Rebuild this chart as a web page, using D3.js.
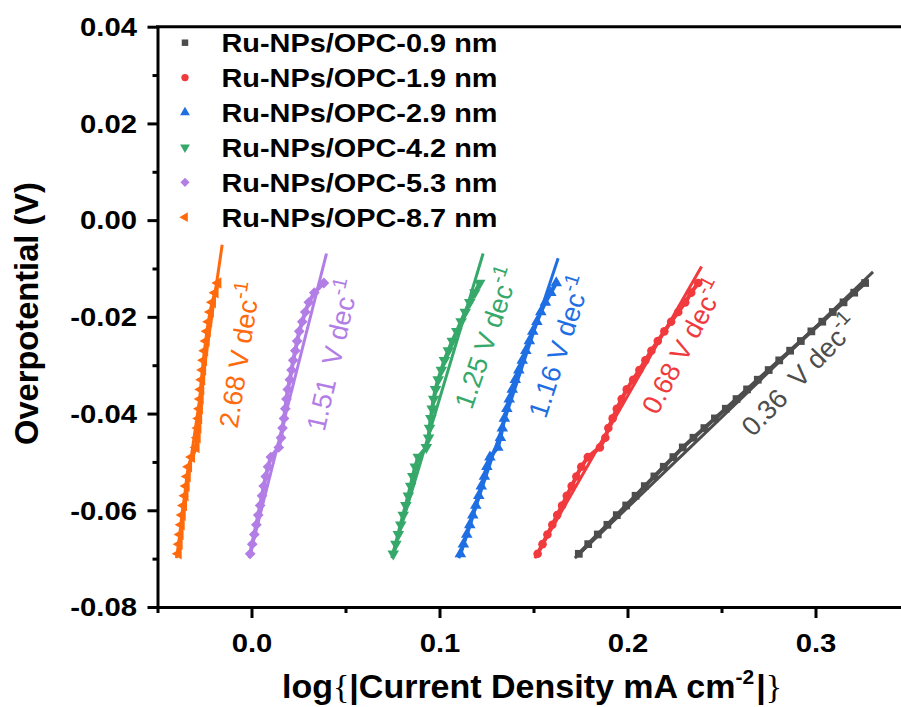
<!DOCTYPE html>
<html lang="en">
<head>
    <meta charset="UTF-8">
    <title>Tafel plots Ru-NPs/OPC</title>
    <script src="https://d3js.org/d3.v7.min.js"></script>
    <style>
        body { margin: 0; background: #fff; }
        svg { display: block; font-family: "Liberation Sans", Arial, sans-serif; }
        .axis path, .axis line { stroke: #000; stroke-width: 3px; }
        .axis text { font-size: 25px; font-weight: bold; fill: #000; }
        .anno { font-size: 27px; white-space: pre; }
    </style>
</head>
<body>
<svg id="chart"></svg>
<script>
    const width = 901, height = 707;

    // potential grid shared by all series (V)
    const potentials = [-0.069, -0.067, -0.065, -0.063, -0.061, -0.059, -0.057, -0.055, -0.053, -0.051,
        -0.049, -0.047, -0.045, -0.043, -0.041, -0.039, -0.037, -0.035, -0.033, -0.031,
        -0.029, -0.027, -0.025, -0.023, -0.021, -0.019, -0.017, -0.015, -0.013];

    // log current density for each sample
    const logJ_09 = [0.1741, 0.1791, 0.1842, 0.1893, 0.1943, 0.1993, 0.2043, 0.2092, 0.2143, 0.2193,
        0.2244, 0.2294, 0.2351, 0.2409, 0.2465, 0.2523, 0.2580, 0.2636, 0.2693, 0.2751,
        0.2807, 0.2865, 0.2922, 0.2978, 0.3036, 0.3092, 0.3149, 0.3206, 0.3264];
    const logJ_19 = [0.1522, 0.1548, 0.1574, 0.1600, 0.1626, 0.1652, 0.1677, 0.1703, 0.1728, 0.1754,
        0.1789, 0.1853, 0.1882, 0.1898, 0.1921, 0.1943, 0.1969, 0.1996, 0.2030, 0.2063,
        0.2095, 0.2127, 0.2161, 0.2196, 0.2232, 0.2270, 0.2307, 0.2339, 0.2376];
    const logJ_29 = [0.1111, 0.1127, 0.1145, 0.1161, 0.1177, 0.1193, 0.1209, 0.1222, 0.1239, 0.1252,
        0.1268, 0.1310, 0.1324, 0.1334, 0.1345, 0.1358, 0.1371, 0.1387, 0.1403, 0.1422,
        0.1440, 0.1459, 0.1478, 0.1496, 0.1518, 0.1539, 0.1563, 0.1592, 0.1621];
    const logJ_42 = [0.0754, 0.0768, 0.0781, 0.0794, 0.0807, 0.0821, 0.0834, 0.0847, 0.0858, 0.0871,
        0.0887, 0.0930, 0.0942, 0.0947, 0.0954, 0.0961, 0.0969, 0.0979, 0.0993, 0.1010,
        0.1026, 0.1047, 0.1068, 0.1092, 0.1115, 0.1137, 0.1161, 0.1188, 0.1214];
    const logJ_53 = [-0.0007, 0.0004, 0.0015, 0.0026, 0.0036, 0.0046, 0.0056, 0.0065, 0.0076, 0.0088,
        0.0103, 0.0145, 0.0157, 0.0165, 0.0173, 0.0180, 0.0186, 0.0193, 0.0204, 0.0213,
        0.0222, 0.0233, 0.0243, 0.0254, 0.0270, 0.0286, 0.0305, 0.0334, 0.0385];
    const logJ_87 = [-0.0389, -0.0384, -0.0379, -0.0373, -0.0368, -0.0361, -0.0353, -0.0347, -0.0341, -0.0334,
        -0.0318, -0.0294, -0.0288, -0.0284, -0.0280, -0.0276, -0.0272, -0.0269, -0.0264, -0.0259,
        -0.0254, -0.0248, -0.0241, -0.0235, -0.0227, -0.0218, -0.0207, -0.0193, -0.0178];

    const seriesNames = ["Ru-NPs/OPC-0.9 nm", "Ru-NPs/OPC-1.9 nm", "Ru-NPs/OPC-2.9 nm",
        "Ru-NPs/OPC-4.2 nm", "Ru-NPs/OPC-5.3 nm", "Ru-NPs/OPC-8.7 nm"];
    const seriesLogJ = [logJ_09, logJ_19, logJ_29, logJ_42, logJ_53, logJ_87];
    const colors = ["#4d4d4d", "#f03a3d", "#1f6fe3", "#36a86a", "#b27ee6", "#ff6a0c"];

    // linear Tafel fits: start x (at y0), end x / end y
    const fitY0 = -0.0699;
    const fitX0 = [0.1720, 0.1507, 0.1103, 0.0746, -0.0013, -0.0399];
    const fitX1 = [0.3306, 0.2394, 0.1631, 0.1232, 0.0399, -0.0156];
    const fitY1 = [-0.0107, -0.0096, -0.0079, -0.0069, -0.0069, -0.0051];

    // slope annotations
    const slopeText = ["0.36  V dec", "0.68 V dec", "1.16 V dec", "1.25 V dec", "1.51  V dec", "2.68 V dec"];
    const annoX = [0.2918, 0.2299, 0.1641, 0.1253, 0.0434, -0.0061];
    const annoY = [-0.0322, -0.0262, -0.0262, -0.0244, -0.0279, -0.0279];
    const annoAngle = [-46, -62, -72, -71, -77, -81];

    const xTicks = [0, 0.1, 0.2, 0.3];
    const xTickLabels = ["0.0", "0.1", "0.2", "0.3"];
    const xMinor = [-0.05, 0.05, 0.15, 0.25, 0.35];
    const yTicks = [0.04, 0.02, 0, -0.02, -0.04, -0.06, -0.08];
    const yTickLabels = ["0.04", "0.02", "0.00", "-0.02", "-0.04", "-0.06", "-0.08"];
    const yMinor = [0.03, 0.01, -0.01, -0.03, -0.05, -0.07];

    const svg = d3.select("#chart").attr("width", width).attr("height", height);
    svg.append("rect").attr("width", width).attr("height", height).attr("fill", "#fff");

    const x = d3.scaleLinear().domain([-0.05, 0.35]).range([157.5, 909.5]);
    const y = d3.scaleLinear().domain([-0.08, 0.04]).range([607, 26.7]);

    // horizontal stretch to mimic the wide lettering of the source
    function stretch(sel, k) {
        sel.each(function () {
            const w = this.getComputedTextLength();
            d3.select(this).attr("textLength", w * k).attr("lengthAdjust", "spacingAndGlyphs");
        });
    }

    const symbols = [
        {type: d3.symbolSquare, rot: 0},
        {type: d3.symbolCircle, rot: 0},
        {type: d3.symbolTriangle, rot: 0},
        {type: d3.symbolTriangle, rot: 180},
        {type: d3.symbolSquare, rot: 45},
        {type: d3.symbolTriangle, rot: -90}
    ];

    // series
    seriesLogJ.forEach((vals, i) => {
        const pts = vals.map((v, k) => [v, potentials[k]]);
        const g = svg.append("g");
        g.append("path")
            .attr("d", d3.line().x(d => x(d[0])).y(d => y(d[1]))(pts))
            .attr("fill", "none").attr("stroke", colors[i]).attr("stroke-width", 4)
            .attr("stroke-linejoin", "round");
        g.selectAll("path.pt").data(pts).enter().append("path")
            .attr("class", "pt")
            .attr("d", d3.symbol().type(symbols[i].type).size(i == 0 ? 60 : 58))
            .attr("transform", d => `translate(${x(d[0])},${y(d[1])}) rotate(${symbols[i].rot})`)
            .attr("fill", colors[i]);
        g.append("line")
            .attr("x1", x(fitX0[i])).attr("y1", y(fitY0))
            .attr("x2", x(fitX1[i])).attr("y2", y(fitY1[i]))
            .attr("stroke", colors[i]).attr("stroke-width", 3);
    });

    // annotations
    slopeText.forEach((t, i) => {
        const txt = svg.append("text")
            .attr("class", "anno")
            .attr("transform", `translate(${x(annoX[i])},${y(annoY[i])}) rotate(${annoAngle[i]})`)
            .attr("text-anchor", "middle")
            .attr("dominant-baseline", "central")
            .attr("fill", colors[i]);
        txt.append("tspan").text(t);
        txt.append("tspan").attr("dy", -10).attr("font-size", 20).text("-1");
    });

    // axes
    const yAxis = svg.append("g").attr("class", "axis").attr("transform", `translate(${x(-0.05)},0)`)
        .call(d3.axisLeft(y).tickValues(yTicks).tickFormat((d, k) => yTickLabels[k])
            .tickSize(10).tickSizeOuter(0).tickPadding(10.5));
    yAxis.selectAll("text").attr("dy", "0.35em").call(stretch, 1.17);
    svg.append("g").attr("class", "axis").attr("transform", `translate(${x(-0.05)},0)`)
        .call(d3.axisLeft(y).tickValues(yMinor).tickFormat("").tickSize(5).tickSizeOuter(0))
        .select(".domain").remove();

    const xAxis = svg.append("g").attr("class", "axis").attr("transform", `translate(0,${y(-0.08)})`)
        .call(d3.axisBottom(x).tickValues(xTicks).tickFormat((d, k) => xTickLabels[k])
            .tickSize(11).tickSizeOuter(0).tickPadding(16));
    xAxis.selectAll("text").call(stretch, 1.17);
    svg.append("g").attr("class", "axis").attr("transform", `translate(0,${y(-0.08)})`)
        .call(d3.axisBottom(x).tickValues(xMinor).tickFormat("").tickSize(6).tickSizeOuter(0))
        .select(".domain").remove();

    // top frame line
    svg.append("line")
        .attr("x1", x(-0.05) - 1.5).attr("x2", width)
        .attr("y1", y(0.04)).attr("y2", y(0.04))
        .attr("stroke", "#000").attr("stroke-width", 3);

    // legend
    const legend = svg.append("g");
    seriesNames.forEach((name, i) => {
        const ly = 42.7 + i * 34.9;
        legend.append("path")
            .attr("d", d3.symbol().type(symbols[i].type).size(42))
            .attr("transform", `translate(185,${ly}) rotate(${symbols[i].rot})`)
            .attr("fill", colors[i]);
        legend.append("text")
            .attr("x", 221.5).attr("y", ly + 9.5)
            .attr("font-size", 25).attr("font-weight", "bold")
            .text(name)
            .call(stretch, 1.155);
    });

    // axis titles
    svg.append("text")
        .attr("transform", "translate(38,313.5) rotate(-90)")
        .attr("text-anchor", "middle")
        .attr("font-size", 33).attr("font-weight", "bold")
        .attr("textLength", 263).attr("lengthAdjust", "spacingAndGlyphs")
        .text("Overpotential (V)");

    const xt = svg.append("text")
        .attr("x", 532).attr("y", 698)
        .attr("text-anchor", "middle")
        .attr("font-size", 34).attr("font-weight", "bold");
    xt.append("tspan").text("log");
    xt.append("tspan").attr("font-family", "Liberation Serif, serif").attr("font-weight", "normal").text("{");
    xt.append("tspan").text("|Current Density mA cm");
    xt.append("tspan").attr("font-size", 21).attr("dy", -14).text("-2");
    xt.append("tspan").attr("dy", 14).attr("dx", 2).text("|");
    xt.append("tspan").attr("font-family", "Liberation Serif, serif").attr("font-weight", "normal").text("}");
    xt.attr("textLength", 500).attr("lengthAdjust", "spacingAndGlyphs");
</script>
</body>
</html>
